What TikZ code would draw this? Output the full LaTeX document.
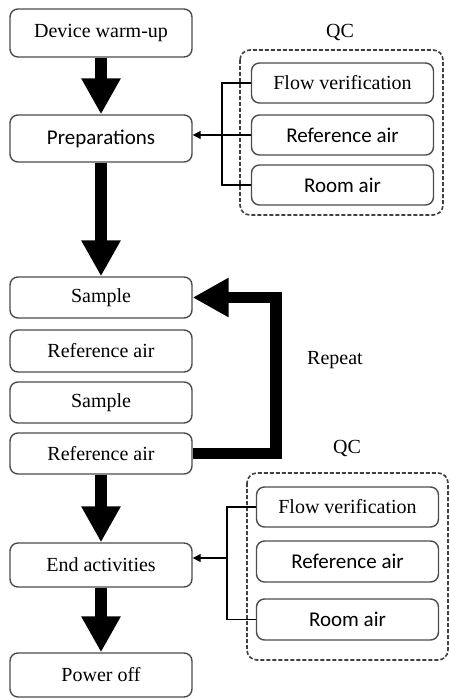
\documentclass[tikz,border=0pt]{standalone}
\usepackage{fontspec}
\setmainfont{Liberation Serif}
\newfontfamily\calibri{Carlito}
\usetikzlibrary{arrows.meta}

\begin{document}
\begin{tikzpicture}[
    x=0.5pt, y=-0.5pt,
    box/.style={rectangle, rounded corners=4pt, draw=black!70, line width=0.7pt, minimum width=91pt, inner sep=0pt, align=center, font=\fontsize{10}{12}\selectfont},
    sbox/.style={box, font=\calibri\fontsize{10.5}{12}\selectfont},
    qcgroup/.style={draw=black!75, dashed, dash pattern=on 2pt off 1pt, rounded corners=5pt, line width=0.8pt},
    bigarrow/.style={line width=5.6pt, -{Triangle[width=18.5pt,length=18pt]}},
    thinline/.style={line width=0.7pt},
    smallarrow/.style={thinline, -{Triangle[width=4pt,length=4pt]}},
    label/.style={font=\fontsize{10}{12}\selectfont}
]
\useasboundingbox (0,0) rectangle (450,699);

% Main sequence
\node[box, minimum height=24pt] (warmup) at (101,33) {Device warm-up};
\node[sbox, minimum height=23.5pt] (prep) at (101,138.5) {Preparations};
\node[box, minimum height=20.5pt] (sample1) at (101,297.5) {Sample};
\node[box, minimum height=21pt] (ref1) at (101,351) {Reference air};
\node[box, minimum height=20.5pt] (sample2) at (101,402.5) {Sample};
\node[box, minimum height=20.5pt] (ref2) at (101,453.5) {Reference air};
\node[box, minimum height=22pt] (endact) at (101,565) {End activities};
\node[box, minimum height=22pt] (poweroff) at (101,675) {Power off};

% First QC
\draw[qcgroup] (240,50) rectangle (443,215);
\node[label] (qc1) at (340,33) {QC};
\node[box, minimum height=20pt] (flow1) at (342.5,83) {Flow verification};
\node[sbox, minimum height=20pt] (refqc1) at (342.5,135) {Reference air};
\node[sbox, minimum height=20pt] (room1) at (342.5,185) {Room air};

% Second QC
\draw[qcgroup] (247,473) rectangle (448,660);
\node[label] (qc2) at (347,448) {QC};
\node[box, minimum height=20pt] (flow2) at (347.5,507) {Flow verification};
\node[sbox, minimum height=20.5pt] (refqc2) at (347.5,561.5) {Reference air};
\node[sbox, minimum height=20.5pt] (room2) at (347.5,619.5) {Room air};

\node[label] (repeat) at (335,360) {Repeat};

% Flow arrows
\draw[bigarrow] (warmup) -- (prep);
\draw[bigarrow] (prep) -- (sample1);
\draw[bigarrow] (ref2) -- (endact);
\draw[bigarrow] (endact) -- (poweroff);

% Repeat loop
\coordinate (loop) at (276,375);
\draw[bigarrow] (ref2.east) -| (loop) |- (sample1.east);

% QC connections
\coordinate (bus1) at (222,135);
\draw[thinline] (flow1.west) -| (bus1);
\draw[thinline] (room1.west) -| (bus1);
\draw[thinline] (refqc1.west) -- (bus1);
\draw[smallarrow] (bus1) -- (bus1 -| prep.east);

\coordinate (bus2) at (227,558);
\draw[thinline] (flow2.west) -| (bus2);
\draw[thinline] (room2.west) -| (bus2);
\draw[smallarrow] (bus2) -- (bus2 -| endact.east);

\end{tikzpicture}
\end{document}
